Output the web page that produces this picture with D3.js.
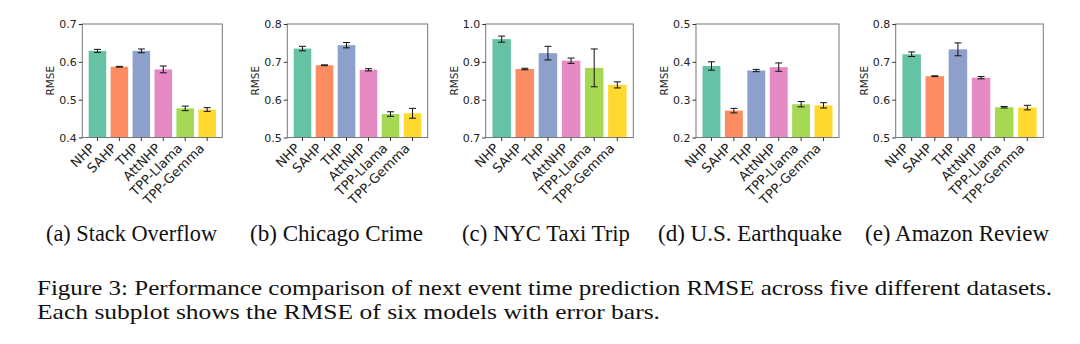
<!DOCTYPE html>
<html><head><meta charset="utf-8">
<script src="https://cdn.jsdelivr.net/npm/d3@7"></script>
<style>body{margin:0;background:#fff}svg{display:block}</style>
</head><body>
<svg id="c" width="1080" height="344"></svg>
<script>
const models = ["NHP","SAHP","THP","AttNHP","TPP-Llama","TPP-Gemma"];
const colors = ["#66c2a5","#fc8d62","#8da0cb","#e78ac3","#a6d854","#ffd92f"];
const captions = ["(a) Stack Overflow","(b) Chicago Crime","(c) NYC Taxi Trip","(d) U.S. Earthquake","(e) Amazon Review"];
const yDomains = [[0.4,0.7],[0.5,0.8],[0.7,1.0],[0.2,0.5],[0.5,0.8]];
const yTicks = [[0.4,0.5,0.6,0.7],[0.5,0.6,0.7,0.8],[0.7,0.8,0.9,1.0],[0.2,0.3,0.4,0.5],[0.5,0.6,0.7,0.8]];
const stackOverflow = [0.629,0.587,0.629,0.580,0.477,0.474];
const stackOverflowErr = [0.004,0.001,0.005,0.009,0.006,0.005];
const chicagoCrime = [0.735,0.691,0.744,0.679,0.562,0.564];
const chicagoCrimeErr = [0.006,0.001,0.007,0.003,0.006,0.013];
const nycTaxi = [0.960,0.881,0.923,0.903,0.884,0.839];
const nycTaxiErr = [0.008,0.002,0.018,0.007,0.050,0.008];
const earthquake = [0.389,0.271,0.377,0.386,0.288,0.285];
const earthquakeErr = [0.011,0.006,0.003,0.011,0.007,0.007];
const amazon = [0.720,0.662,0.733,0.658,0.580,0.579];
const amazonErr = [0.006,0.001,0.017,0.003,0.002,0.006];
const figCaption1 = "Figure 3: Performance comparison of next event time prediction RMSE across five different datasets.";
const figCaption2 = "Each subplot shows the RMSE of six models with error bars.";

const values = [stackOverflow, chicagoCrime, nycTaxi, earthquake, amazon];
const errors = [stackOverflowErr, chicagoCrimeErr, nycTaxiErr, earthquakeErr, amazonErr];

// layout
const panelX = [[82.3,222.3],[287.3,427.7],[485.7,633.3],[696,839],[895.7,1043.3]];
const plotTop = 24, plotBottom = 137.5;
const capCenter = [131.5,336.5,546,750,957];
const capWidth = [171,173,168,184,184];

const svg = d3.select("#c");
const sans = "'DejaVu Sans', sans-serif";
const serif = "'Liberation Serif', 'Times New Roman', Times, serif";

values.forEach((vals, p) => {
  const [x0, x1] = panelX[p];
  const x = d3.scaleBand().domain(models).range([x0, x1]).paddingInner(0.2).paddingOuter(0.29);
  const y = d3.scaleLinear().domain(yDomains[p]).range([plotBottom, plotTop]);
  const g = svg.append("g");
  const errs = errors[p];

  g.selectAll("rect.bar").data(models).join("rect")
    .attr("x", d => x(d)).attr("width", x.bandwidth())
    .attr("y", (d,i) => y(vals[i])).attr("height", (d,i) => plotBottom - y(vals[i]))
    .attr("fill", (d,i) => colors[i]);

  const eg = g.selectAll("g.err").data(models).join("g")
    .attr("transform", d => `translate(${x(d)+x.bandwidth()/2},0)`);
  eg.append("line").attr("y1",(d,i)=>y(vals[i]-errs[i])).attr("y2",(d,i)=>y(vals[i]+errs[i]))
    .attr("stroke","#111").attr("stroke-width",1);
  eg.append("line").attr("x1",-3.5).attr("x2",3.5).attr("y1",(d,i)=>y(vals[i]-errs[i])).attr("y2",(d,i)=>y(vals[i]-errs[i]))
    .attr("stroke","#111").attr("stroke-width",1);
  eg.append("line").attr("x1",-3.5).attr("x2",3.5).attr("y1",(d,i)=>y(vals[i]+errs[i])).attr("y2",(d,i)=>y(vals[i]+errs[i]))
    .attr("stroke","#111").attr("stroke-width",1);

  // frame
  g.append("rect").attr("x",x0).attr("y",plotTop).attr("width",x1-x0).attr("height",plotBottom-plotTop)
    .attr("fill","none").attr("stroke","#777").attr("stroke-width",1);

  // y axis
  const ya = g.append("g").attr("transform",`translate(${x0},0)`)
    .call(d3.axisLeft(y).tickValues(yTicks[p]).tickFormat(d3.format(".1f")).tickSize(3.5).tickPadding(2));
  ya.select(".domain").remove();
  ya.selectAll("line").attr("stroke","#333");
  ya.selectAll("text").style("font-family",sans).style("font-size","11px").attr("fill","#222");

  // x axis
  const xa = g.append("g").attr("transform",`translate(0,${plotBottom})`)
    .call(d3.axisBottom(x).tickSize(3.5).tickPadding(2));
  xa.select(".domain").remove();
  xa.selectAll("line").attr("stroke","#333");
  xa.selectAll("text")
    .style("font-family",sans).style("font-size","13px").attr("fill","#222")
    .attr("text-anchor","end").attr("dy",null).attr("y",null)
    .attr("transform","translate(-2,11.5) rotate(-45)");

  g.append("text").attr("transform",`translate(${x0-28},${(plotTop+plotBottom)/2}) rotate(-90)`)
    .attr("text-anchor","middle").style("font-family",sans).style("font-size","10.5px").attr("fill","#222")
    .text("RMSE");

  svg.append("text").attr("x",capCenter[p]).attr("y",241).attr("text-anchor","middle")
    .style("font-family",serif).style("font-size","22.5px").attr("fill","#111")
    .attr("textLength",capWidth[p]).attr("lengthAdjust","spacingAndGlyphs")
    .text(captions[p]);
});

svg.append("text").attr("x",37).attr("y",295).style("font-family",serif).style("font-size","21.5px").attr("fill","#111")
  .attr("textLength",1015).attr("lengthAdjust","spacingAndGlyphs").text(figCaption1);
svg.append("text").attr("x",37).attr("y",319.3).style("font-family",serif).style("font-size","21.5px").attr("fill","#111")
  .attr("textLength",623).attr("lengthAdjust","spacingAndGlyphs").text(figCaption2);
</script>
</body></html>
